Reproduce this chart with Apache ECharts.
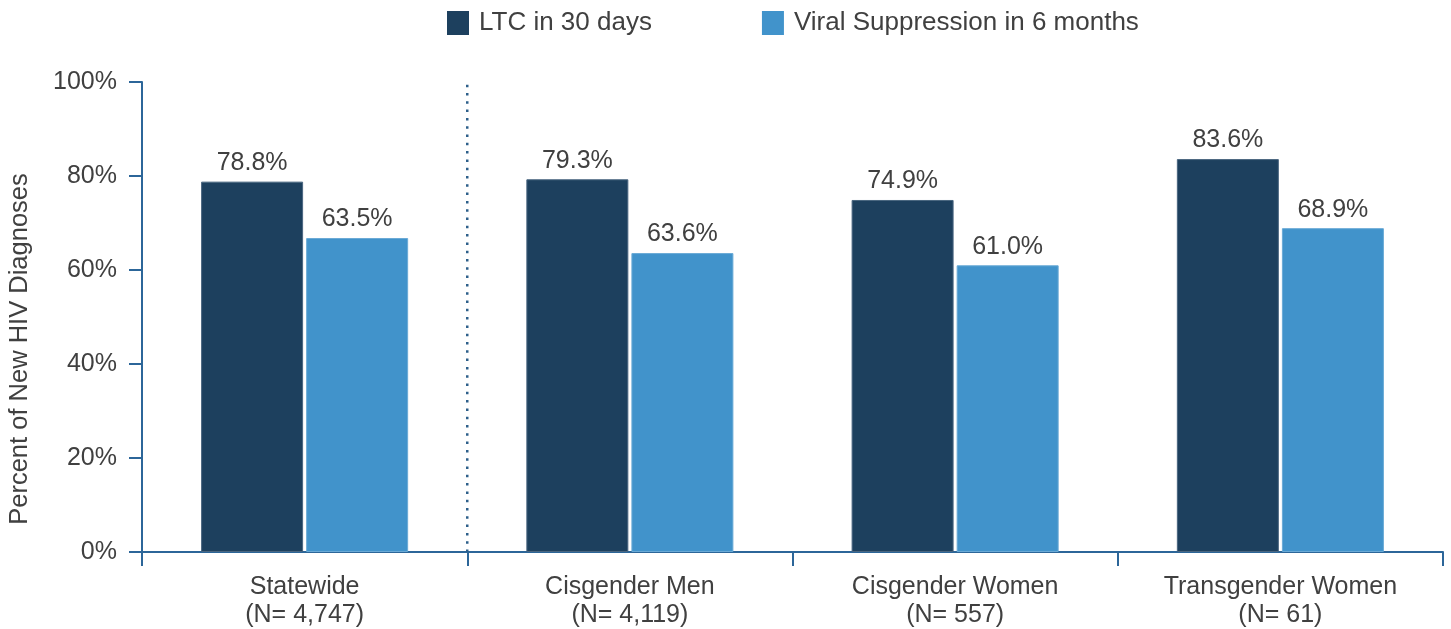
<!DOCTYPE html>
<html>
<head>
<meta charset="utf-8">
<title>New HIV Diagnoses</title>
<script src="https://cdn.jsdelivr.net/npm/echarts@6/dist/echarts.min.js"></script>
<style>
  html, body { margin: 0; padding: 0; background: #fff; }
  #chart { width: 1451px; height: 629px; }
</style>
</head>
<body>
<div id="chart"></div>
<script>
const categories = ['Statewide\n(N= 4,747)', 'Cisgender Men\n(N= 4,119)', 'Cisgender Women\n(N= 557)', 'Transgender Women\n(N= 61)']
const seriesNames = ['LTC in 30 days', 'Viral Suppression in 6 months']
const ltcValues = [78.8, 79.3, 74.9, 83.6]
// Statewide 的浅色柱在原图中画到约 66.8，但标签写的是 63.5%
const vsValues = [66.8, 63.6, 61.0, 68.9]
const ltcLabels = ['78.8%', '79.3%', '74.9%', '83.6%']
const vsLabels = ['63.5%', '63.6%', '61.0%', '68.9%']
const yTicks = [0, 20, 40, 60, 80, 100]
// 分隔线：Statewide 与其它组之间（类目边界 1）
const dividerPoints = [[1, 0], [1, 100]]

const font = 'Liberation Sans, Arial, sans-serif'
const textColor = '#404040'
const axisColor = '#2c6699'
const colors = ['#1d405e', '#4193cb']
const borderColors = ['#4a6680', '#6aaad6']

const labelOf = labels => ({
  show: true,
  position: 'top',
  distance: 6,
  fontFamily: font,
  fontSize: 25,
  color: textColor,
  formatter: p => labels[p.dataIndex]
})

const options = {
  animation: false,
  color: colors,
  textStyle: { fontFamily: font },
  legend: {
    data: seriesNames,
    left: 442,
    top: 5,
    itemWidth: 22,
    itemHeight: 24,
    itemGap: 110,
    icon: 'rect',
    itemStyle: { borderWidth: 0 },
    textStyle: { fontFamily: font, fontSize: 26, color: textColor, padding: [0, 0, 0, 5] }
  },
  grid: { left: 142, right: 8, top: 82, bottom: 77, containLabel: false },
  xAxis: [{
    type: 'category',
    data: categories,
    axisLine: { lineStyle: { color: axisColor, width: 2 } },
    axisTick: { show: true, length: 14, lineStyle: { color: axisColor, width: 2 } },
    axisLabel: { fontFamily: font, fontSize: 25, color: textColor, lineHeight: 28, margin: 21 },
    splitLine: { show: false }
  }, {
    // 隐藏的数值轴，用来定位分隔线
    type: 'value',
    min: 0,
    max: categories.length,
    show: false
  }],
  yAxis: {
    type: 'value',
    min: yTicks[0],
    max: yTicks[yTicks.length - 1],
    interval: yTicks[1] - yTicks[0],
    axisLine: { show: true, lineStyle: { color: axisColor, width: 2 } },
    axisTick: { show: true, length: 13, lineStyle: { color: axisColor, width: 2 } },
    axisLabel: { fontFamily: font, fontSize: 25, color: textColor, margin: 25, formatter: '{value}%' },
    splitLine: { show: false }
  },
  graphic: [{
    type: 'text',
    x: 20,
    y: 349,
    rotation: Math.PI / 2,
    style: {
      text: 'Percent of New HIV Diagnoses',
      fontFamily: font,
      fontSize: 25.5,
      fill: textColor,
      align: 'center',
      verticalAlign: 'middle'
    }
  }],
  series: [
    {
      name: seriesNames[0],
      type: 'bar',
      data: ltcValues,
      barWidth: 102,
      barGap: '3%',
      itemStyle: { borderColor: borderColors[0], borderWidth: 1 },
      label: labelOf(ltcLabels)
    },
    {
      name: seriesNames[1],
      type: 'bar',
      data: vsValues,
      barWidth: 102,
      barGap: '3%',
      itemStyle: { borderColor: borderColors[1], borderWidth: 1 },
      label: labelOf(vsLabels)
    },
    {
      name: 'divider',
      type: 'line',
      xAxisIndex: 1,
      data: dividerPoints,
      symbol: 'none',
      silent: true,
      lineStyle: { color: '#2d5f8a', width: 2.5, type: [2.5, 5.8] },
      z: 1
    }
  ]
}

// 画图
const myChart = echarts.init(document.getElementById('chart'))
myChart.setOption(options)
window.addEventListener('resize', () => myChart.resize())
</script>
</body>
</html>
